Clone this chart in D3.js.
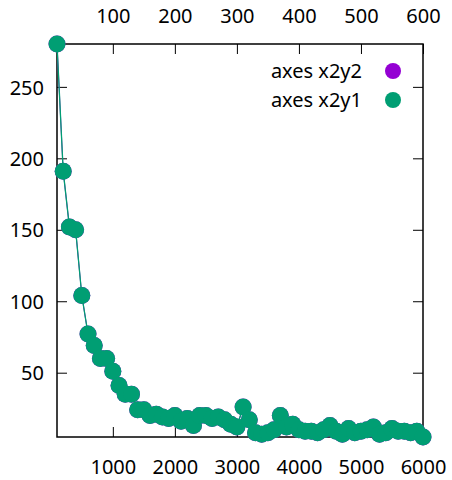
<!DOCTYPE html>
<html>
<head>
<meta charset="utf-8">
<script src="https://cdn.jsdelivr.net/npm/d3@7"></script>
<style>
  body { margin: 0; background: #fff; }
  svg { display: block; font-family: "Noto Sans", sans-serif; }
</style>
</head>
<body>
<div id="chart"></div>
<script>
// x2 values (top axis); bottom axis x1 is linked as x2 * 10
const xValues = d3.range(10, 601, 10);
const yValues = [
  280, 191, 152, 150, 104, 77, 69, 60, 60, 51,
  41, 35, 35, 24, 24, 20, 21, 19, 18, 20,
  16, 18, 13, 20, 20, 18, 19, 17, 14, 12,
  26, 17, 8, 7, 8, 10, 20, 12, 14, 10,
  9, 9, 8, 10, 13, 9, 7, 11, 8, 9,
  10, 12, 7, 8, 11, 9, 9, 8, 9, 5
];
const x2Ticks = [100, 200, 300, 400, 500, 600];
const x1Ticks = [1000, 2000, 3000, 4000, 5000, 6000];
const yTicks = [50, 100, 150, 200, 250];
const series = [
  { name: "axes x2y2", color: "#9400d3" },
  { name: "axes x2y1", color: "#009e73" }
];

const width = 452, height = 480;
const margin = { top: 44, right: 29, bottom: 43, left: 57 };
const fontSize = 20;

const data = xValues.map((x, i) => ({ x: x, y: yValues[i] }));

const svg = d3.select("#chart")
  .append("svg")
  .attr("width", width)
  .attr("height", height);

const x2 = d3.scaleLinear()
  .domain(d3.extent(xValues))
  .range([margin.left, width - margin.right]);
const x1 = d3.scaleLinear()
  .domain(x2.domain().map(d => d * 10))
  .range(x2.range());
const y = d3.scaleLinear()
  .domain([d3.min(yValues), d3.max(yValues)])
  .range([height - margin.bottom, margin.top]);
const y2 = y.copy();

const tickLen = 10;

const styleAxis = g => {
  g.attr("font-family", null).attr("font-size", null);
  g.select(".domain").remove();
  g.selectAll("text").attr("font-size", fontSize).attr("fill", "#000");
  g.selectAll("line").attr("stroke", "#000");
};

// top axis (x2) with labels
svg.append("g")
  .attr("transform", `translate(0,${margin.top})`)
  .call(d3.axisTop(x2).tickValues(x2Ticks).tickSizeInner(-tickLen).tickSizeOuter(0).tickFormat(d3.format("d")))
  .call(styleAxis)
  .call(g => g.selectAll("text").attr("y", -21).attr("dy", 0));

// bottom axis (x1)
svg.append("g")
  .attr("transform", `translate(0,${height - margin.bottom})`)
  .call(d3.axisBottom(x1).tickValues(x1Ticks).tickSizeInner(-tickLen).tickSizeOuter(0).tickFormat(d3.format("d")))
  .call(styleAxis)
  .call(g => g.selectAll("text").attr("y", 37).attr("dy", 0));

// left axis
svg.append("g")
  .attr("transform", `translate(${margin.left},0)`)
  .call(d3.axisLeft(y).tickValues(yTicks).tickSizeInner(-tickLen).tickSizeOuter(0))
  .call(styleAxis)
  .call(g => g.selectAll("text").attr("x", -13).attr("dy", "0.36em"));

// right mirror ticks
svg.append("g")
  .attr("transform", `translate(${width - margin.right},0)`)
  .call(d3.axisRight(y).tickValues(yTicks).tickSizeInner(-tickLen).tickSizeOuter(0).tickFormat(""))
  .call(styleAxis);

// border
svg.append("rect")
  .attr("x", margin.left)
  .attr("y", margin.top)
  .attr("width", width - margin.left - margin.right)
  .attr("height", height - margin.top - margin.bottom)
  .attr("fill", "none")
  .attr("stroke", "#000")
  .attr("stroke-width", 1.5);

const line = (ys) => d3.line().x(d => x2(d.x)).y(d => ys(d.y));

// x2y2 plot (purple) first, then x2y1 (green) on top
const plots = [
  { s: series[0], ys: y2, w: 1.0 },
  { s: series[1], ys: y, w: 1.3 }
];

plots.forEach(p => {
  svg.append("path")
    .datum(data)
    .attr("fill", "none")
    .attr("stroke", p.s.color)
    .attr("stroke-width", p.w)
    .attr("d", line(p.ys));

  svg.append("g")
    .selectAll("circle")
    .data(data)
    .join("circle")
    .attr("cx", d => x2(d.x))
    .attr("cy", d => p.ys(d.y))
    .attr("r", 8.5)
    .attr("fill", p.s.color);
});

// legend
const legend = svg.append("g")
  .selectAll("g")
  .data(series)
  .join("g")
  .attr("transform", (d, i) => `translate(0,${71 + i * 29})`);

legend.append("text")
  .attr("x", 362)
  .attr("dy", "0.36em")
  .attr("text-anchor", "end")
  .attr("font-size", fontSize)
  .text(d => d.name);

legend.append("circle")
  .attr("cx", 393)
  .attr("r", 8)
  .attr("fill", d => d.color);
</script>
</body>
</html>
